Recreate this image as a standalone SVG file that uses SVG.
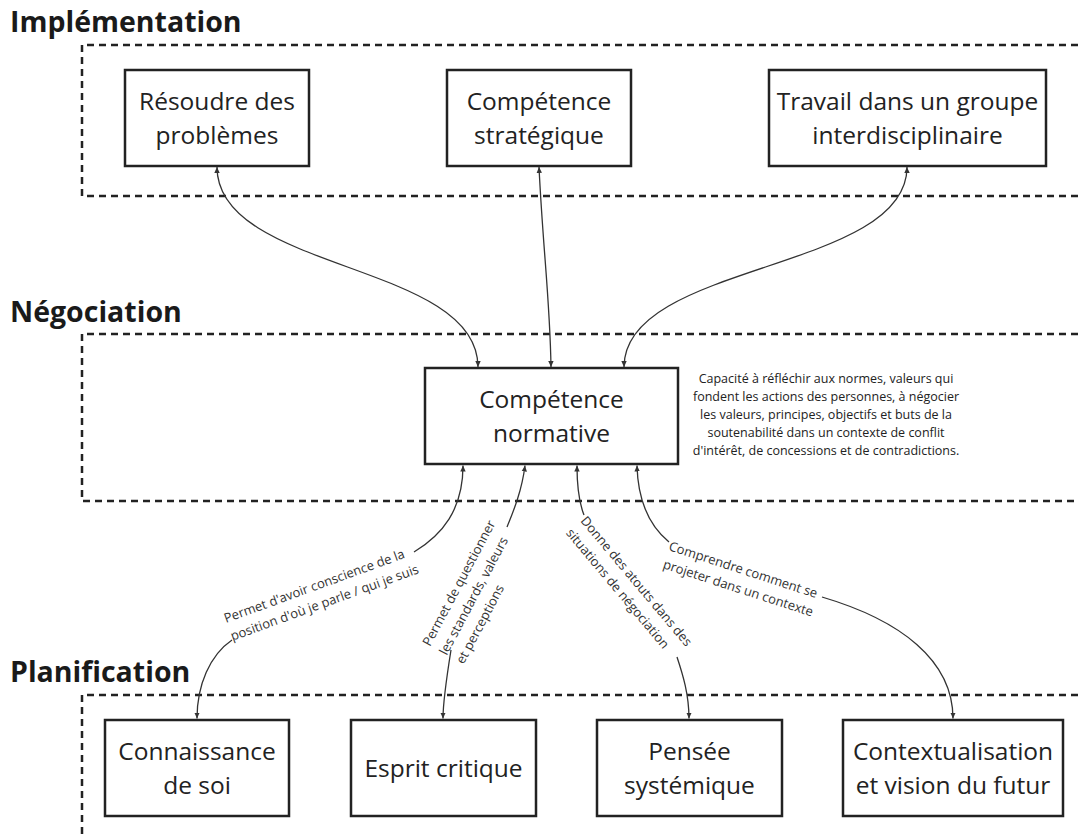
<svg xmlns="http://www.w3.org/2000/svg" width="1078" height="839" viewBox="0 0 1078 839">
<style>
.frame{fill:none;stroke:#222;stroke-width:2.5;stroke-dasharray:7 5}
.title{font-family:"Open Sans","Liberation Sans",sans-serif;font-weight:bold;font-size:28.5px;fill:#1a1a1a}
.box{fill:#fff;stroke:#222;stroke-width:2.5}
.bt{font-family:"Open Sans","Liberation Sans",sans-serif;font-size:24.5px;fill:#222;text-anchor:middle}
.conn{fill:none;stroke:#333;stroke-width:1.3}
.lbl{font-family:"Open Sans","Liberation Sans",sans-serif;font-size:13px;fill:#333}
.note{font-family:"Open Sans","Liberation Sans",sans-serif;font-size:12.5px;fill:#222;text-anchor:middle}
</style>
<defs>
<marker id="arr" viewBox="0 0 6 6" refX="6" refY="3" markerWidth="6" markerHeight="6" markerUnits="userSpaceOnUse" orient="auto-start-reverse">
<path d="M0,0.3 L6,3 L0,5.7 z" fill="#333"/>
</marker>
</defs>
<rect width="1078" height="839" fill="#fff"/>

<g id="frames">
<path class="frame" d="M1078,45 H82 V196 H1078"/>
<path class="frame" d="M1078,334 H82 V501 H1078"/>
<path class="frame" d="M1078,695 H82 V839"/>
<text class="title" x="10" y="32">Implémentation</text>
<text class="title" x="10" y="322">Négociation</text>
<text class="title" x="10" y="682">Planification</text>
</g>

<g id="connectors">
<path class="conn" d="M217,167 C217,272 478,262 478,367" marker-start="url(#arr)" marker-end="url(#arr)"/>
<path class="conn" d="M539,167 C543,250 550,300 551,367" marker-start="url(#arr)" marker-end="url(#arr)"/>
<path class="conn" d="M907,167 C907,272 624,262 624,367" marker-start="url(#arr)" marker-end="url(#arr)"/>

<path class="conn" d="M463,465.5 C463,510 442,535 414,552" marker-start="url(#arr)"/>
<path class="conn" d="M232,640 C210,655 197,685 197,718.5" marker-end="url(#arr)"/>
<text class="lbl" transform="translate(226,623) rotate(-20)"><tspan x="0" y="0">Permet d'avoir conscience de la</tspan><tspan x="0" y="19">position d'où je parle / qui je suis</tspan></text>

<path class="conn" d="M525,465.5 C522,490 514,510 507,527" marker-start="url(#arr)"/>
<path class="conn" d="M451,650 C447,675 443,700 443,718.5" marker-end="url(#arr)"/>
<text class="lbl" transform="translate(430,647) rotate(-62)"><tspan x="0" y="0">Permet de questionner</tspan><tspan x="0" y="19">les standards, valeurs</tspan><tspan x="0" y="38">et perceptions</tspan></text>

<path class="conn" d="M577,465.5 C577,490 580,505 584,515" marker-start="url(#arr)"/>
<path class="conn" d="M677,657 C683,675 689,695 689,718.5" marker-end="url(#arr)"/>
<text class="lbl" transform="translate(580,521) rotate(50)"><tspan x="0" y="0">Donne des atouts dans des</tspan><tspan x="0" y="19">situations de négociation</tspan></text>

<path class="conn" d="M637,465.5 C638,505 652,528 669,542" marker-start="url(#arr)"/>
<path class="conn" d="M822,597 C900,620 953,660 953,718.5" marker-end="url(#arr)"/>
<text class="lbl" transform="translate(668,550) rotate(18)"><tspan x="0" y="0">Comprendre comment se</tspan><tspan x="0" y="19">projeter dans un contexte</tspan></text>
</g>

<g id="node-resoudre">
<rect class="box" x="125" y="70" width="184" height="96"/>
<text class="bt" x="217" y="110">Résoudre des</text>
<text class="bt" x="217" y="143.5">problèmes</text>
</g>
<g id="node-strategique">
<rect class="box" x="447" y="70" width="184" height="96"/>
<text class="bt" x="539" y="110">Compétence</text>
<text class="bt" x="539" y="143.5">stratégique</text>
</g>
<g id="node-travail">
<rect class="box" x="769" y="70" width="277" height="96"/>
<text class="bt" x="907.5" y="110">Travail dans un groupe</text>
<text class="bt" x="907.5" y="143.5">interdisciplinaire</text>
</g>

<g id="node-normative">
<rect class="box" x="425" y="368" width="253" height="96"/>
<text class="bt" x="551.5" y="408">Compétence</text>
<text class="bt" x="551.5" y="441.5">normative</text>
</g>
<g id="note-normative">
<text class="note" x="826" y="383">Capacité à réfléchir aux normes, valeurs qui</text>
<text class="note" x="826" y="401">fondent les actions des personnes, à négocier</text>
<text class="note" x="826" y="419">les valeurs, principes, objectifs et buts de la</text>
<text class="note" x="826" y="437">soutenabilité dans un contexte de conflit</text>
<text class="note" x="826" y="455">d'intérêt, de concessions et de contradictions.</text>
</g>

<g id="node-connaissance">
<rect class="box" x="105" y="720" width="184" height="96"/>
<text class="bt" x="197" y="760">Connaissance</text>
<text class="bt" x="197" y="793.5">de soi</text>
</g>
<g id="node-esprit">
<rect class="box" x="351" y="720" width="185" height="96"/>
<text class="bt" x="443.5" y="776.75">Esprit critique</text>
</g>
<g id="node-pensee">
<rect class="box" x="597" y="720" width="185" height="96"/>
<text class="bt" x="689.5" y="760">Pensée</text>
<text class="bt" x="689.5" y="793.5">systémique</text>
</g>
<g id="node-contexte">
<rect class="box" x="843" y="720" width="220" height="96"/>
<text class="bt" x="953" y="760">Contextualisation</text>
<text class="bt" x="953" y="793.5">et vision du futur</text>
</g>
</svg>
